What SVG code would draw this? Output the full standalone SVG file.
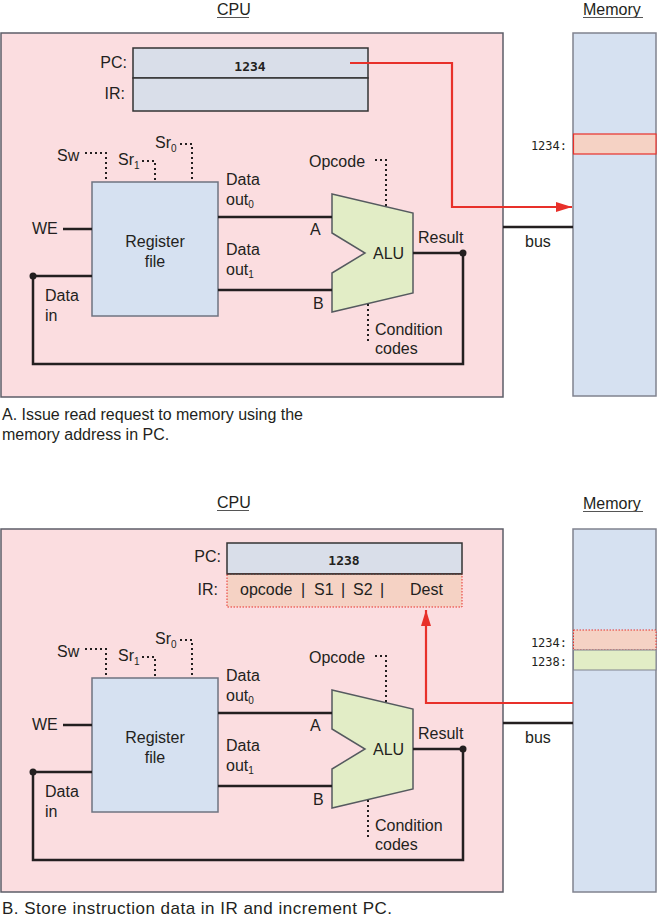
<svg xmlns="http://www.w3.org/2000/svg" width="657" height="917" viewBox="0 0 657 917">
<style>
text{font-family:"Liberation Sans",Arial,sans-serif;font-size:16px;fill:#231f20}
.mono{font-family:"DejaVu Sans Mono","Liberation Mono",monospace;font-size:12px}
.monob{font-family:"DejaVu Sans Mono","Liberation Mono",monospace;font-size:13px;font-weight:bold}
.sub{font-size:10px}
.cpu{fill:#fbdde0;stroke:#5d5d68;stroke-width:1.5}
.reg{fill:#d6e1f1;stroke:#6f7380;stroke-width:1.5}
.mem{fill:#d6e1f1;stroke:#80838f;stroke-width:1.5}
.pcbox{fill:#d9dee9;stroke:#333;stroke-width:1.5}
.irpeach{fill:#f5d2c4;stroke:#e8302a;stroke-width:1;stroke-dasharray:1.5 1.5}
.alu{fill:#e2edc6;stroke:#555a5f;stroke-width:1.5}
.wire{fill:none;stroke:#231f20;stroke-width:2.5}
.dot{fill:none;stroke:#231f20;stroke-width:2;stroke-dasharray:2 3}
.red{fill:none;stroke:#e8302a;stroke-width:2.2}
.ul{stroke:#555;stroke-width:1}
</style>
<defs>
<marker id="arr" markerWidth="16" markerHeight="10" refX="16" refY="5" orient="auto" markerUnits="userSpaceOnUse">
<path d="M0,0 L16,5 L0,10 Z" fill="#e8302a"/>
</marker>
</defs>

<!-- ===== Panel A ===== -->
<g id="titleA">
<text x="217" y="15">CPU</text><line class="ul" x1="217" y1="17.5" x2="249" y2="17.5"/>
<text x="583" y="15">Memory</text><line class="ul" x1="583" y1="17.5" x2="643" y2="17.5"/>
</g>
<g id="cpuA"><rect class="cpu" x="1" y="33" width="502" height="364"/></g>
<g id="pcA">
<rect class="pcbox" x="133" y="48" width="235" height="30"/>
<text x="127" y="68" text-anchor="end">PC:</text>
<text class="monob" x="250" y="71" text-anchor="middle">1234</text>
</g>
<g id="irA">
<rect class="pcbox" x="133" y="78" width="235" height="33"/>
<text x="125" y="99" text-anchor="end">IR:</text>
</g>

<g id="sharedA">
<g id="regfileA">
<rect class="reg" x="92" y="182" width="126" height="134"/>
<text x="155" y="247" text-anchor="middle">Register</text>
<text x="155" y="267" text-anchor="middle">file</text>
</g>
<g id="aluA">
<polygon class="alu" points="332,194 413,213 413,293 332,312 332,273 365,253 332,233"/>
<text x="373" y="259">ALU</text>
</g>
<g id="labelsA">
<text x="57" y="161">Sw</text>
<text x="118" y="165">Sr<tspan class="sub" dy="4">1</tspan></text>
<text x="155" y="148">Sr<tspan class="sub" dy="4">0</tspan></text>
<text x="226" y="185">Data</text>
<text x="226" y="205">out<tspan class="sub" dy="3">0</tspan></text>
<text x="226" y="255">Data</text>
<text x="226" y="275">out<tspan class="sub" dy="3">1</tspan></text>
<text x="310" y="235">A</text>
<text x="313" y="309">B</text>
<text x="32" y="234">WE</text>
<text x="45" y="301">Data</text>
<text x="45" y="321">in</text>
<text x="309" y="167">Opcode</text>
<text x="418" y="243">Result</text>
<text x="375" y="335">Condition</text>
<text x="375" y="354">codes</text>
<text x="525" y="247">bus</text>
</g>
<g id="memoryA">
<rect class="mem" x="573" y="33" width="83" height="363"/>
</g>
<g id="connectorsA">
<polyline class="dot" points="85,153 106,153 106,182"/>
<polyline class="dot" points="142,161 155,161 155,182"/>
<polyline class="dot" points="180,144 192,144 192,182"/>
<polyline class="dot" points="375,160 386,160 386,207"/>
<line class="dot" x1="368" y1="304" x2="368" y2="341"/>
<line class="wire" x1="218" y1="217" x2="332" y2="217"/>
<line class="wire" x1="218" y1="290" x2="332" y2="290"/>
<line class="wire" x1="63" y1="229" x2="92" y2="229"/>
<line class="wire" x1="33" y1="276" x2="92" y2="276"/>
<polyline class="wire" points="413,253 463,253 463,364 33,364 33,276"/>
<circle cx="463" cy="253" r="3.5" fill="#231f20"/>
<circle cx="33" cy="276" r="3.5" fill="#231f20"/>
<line class="wire" x1="503" y1="227" x2="573" y2="227"/>
</g>
</g>
<g id="rowA1234">
<rect x="573.5" y="134" width="82.5" height="20" fill="#f5d2c4" stroke="#e8302a" stroke-width="1.2"/>
<text class="mono" x="567" y="150" text-anchor="end">1234:</text>
</g>
<g id="redA"><polyline class="red" points="350,63 452,63 452,207 572,207" marker-end="url(#arr)"/></g>
<g id="captionA">
<text x="2" y="420" textLength="301" lengthAdjust="spacing">A. Issue read request to memory using the</text>
<text x="2" y="440">memory address in PC.</text>
</g>

<!-- ===== Panel B ===== -->
<g id="titleB">
<text x="217" y="508">CPU</text><line class="ul" x1="217" y1="510.5" x2="249" y2="510.5"/>
<text x="583" y="509">Memory</text><line class="ul" x1="583" y1="511.5" x2="643" y2="511.5"/>
</g>
<g id="cpuB"><rect class="cpu" x="1" y="529" width="502" height="363"/></g>
<g id="pcB">
<rect class="pcbox" x="227" y="543" width="235" height="31"/>
<text x="221" y="562" text-anchor="end">PC:</text>
<text class="monob" x="344" y="565" text-anchor="middle">1238</text>
</g>
<g id="irB">
<rect class="irpeach" x="227" y="574" width="235" height="33"/>
<line x1="227" y1="574" x2="462" y2="574" stroke="#333" stroke-width="1.5"/>
<text x="218" y="595" text-anchor="end">IR:</text>
<text x="240" y="595">opcode</text>
<text x="301" y="595">|</text>
<text x="314" y="595">S1</text>
<text x="341" y="595">|</text>
<text x="353" y="595">S2</text>
<text x="380" y="595">|</text>
<text x="410" y="595">Dest</text>
</g>

<g id="sharedB" transform="translate(0,496)">
<g id="regfileB">
<rect class="reg" x="92" y="182" width="126" height="134"/>
<text x="155" y="247" text-anchor="middle">Register</text>
<text x="155" y="267" text-anchor="middle">file</text>
</g>
<g id="aluB">
<polygon class="alu" points="332,194 413,213 413,293 332,312 332,273 365,253 332,233"/>
<text x="373" y="259">ALU</text>
</g>
<g id="labelsB">
<text x="57" y="161">Sw</text>
<text x="118" y="165">Sr<tspan class="sub" dy="4">1</tspan></text>
<text x="155" y="148">Sr<tspan class="sub" dy="4">0</tspan></text>
<text x="226" y="185">Data</text>
<text x="226" y="205">out<tspan class="sub" dy="3">0</tspan></text>
<text x="226" y="255">Data</text>
<text x="226" y="275">out<tspan class="sub" dy="3">1</tspan></text>
<text x="310" y="235">A</text>
<text x="313" y="309">B</text>
<text x="32" y="234">WE</text>
<text x="45" y="301">Data</text>
<text x="45" y="321">in</text>
<text x="309" y="167">Opcode</text>
<text x="418" y="243">Result</text>
<text x="375" y="335">Condition</text>
<text x="375" y="354">codes</text>
<text x="525" y="247">bus</text>
</g>
<g id="memoryB">
<rect class="mem" x="573" y="33" width="83" height="363"/>
</g>
<g id="connectorsB">
<polyline class="dot" points="85,153 106,153 106,182"/>
<polyline class="dot" points="142,161 155,161 155,182"/>
<polyline class="dot" points="180,144 192,144 192,182"/>
<polyline class="dot" points="375,160 386,160 386,207"/>
<line class="dot" x1="368" y1="304" x2="368" y2="341"/>
<line class="wire" x1="218" y1="217" x2="332" y2="217"/>
<line class="wire" x1="218" y1="290" x2="332" y2="290"/>
<line class="wire" x1="63" y1="229" x2="92" y2="229"/>
<line class="wire" x1="33" y1="276" x2="92" y2="276"/>
<polyline class="wire" points="413,253 463,253 463,364 33,364 33,276"/>
<circle cx="463" cy="253" r="3.5" fill="#231f20"/>
<circle cx="33" cy="276" r="3.5" fill="#231f20"/>
<line class="wire" x1="503" y1="227" x2="573" y2="227"/>
</g>
</g>
<g id="rowB1234">
<rect x="573.5" y="630" width="82.5" height="20" fill="#f5d2c4" stroke="#e8302a" stroke-width="1" stroke-dasharray="1.5 1.5"/>
<text class="mono" x="567" y="647" text-anchor="end">1234:</text>
</g>
<g id="rowB1238">
<rect x="573.5" y="650" width="82.5" height="20" fill="#e2edc6" stroke="#80838f" stroke-width="1"/>
<text class="mono" x="567" y="666" text-anchor="end">1238:</text>
</g>
<g id="redB"><polyline class="red" points="573,703 426,703 426,610" marker-end="url(#arr)"/></g>
<g id="captionB">
<text x="2" y="914" style="font-size:17px" textLength="390" lengthAdjust="spacing">B. Store instruction data in IR and increment PC.</text>
</g>
</svg>
